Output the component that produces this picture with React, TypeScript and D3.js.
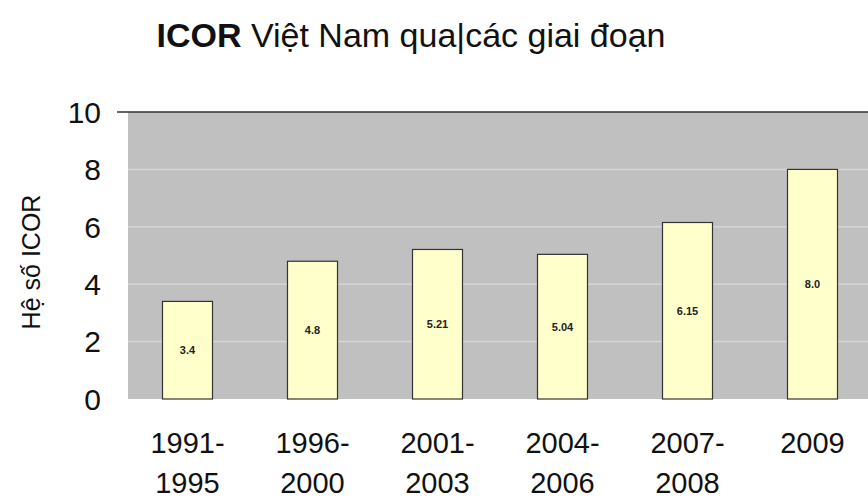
import { useEffect, useRef } from 'react';
import * as d3 from 'd3';

// giai đoạn (mỗi nhãn 2 dòng)
const periods = ['1991-1995', '1996-2000', '2001-2003', '2004-2006', '2007-2008', '2009'];
const periodLines = [
  ['1991-', '1995'],
  ['1996-', '2000'],
  ['2001-', '2003'],
  ['2004-', '2006'],
  ['2007-', '2008'],
  ['2009'],
];
const icor = [3.4, 4.8, 5.21, 5.04, 6.15, 8.0];
const icorLabels = ['3.4', '4.8', '5.21', '5.04', '6.15', '8.0'];
const yTicks = [0, 2, 4, 6, 8, 10];

const FONT = 'Liberation Sans, Arial, sans-serif';

const IcorChart = () => {
  const ref = useRef<SVGSVGElement>(null);

  useEffect(() => {
    const svg = d3.select(ref.current);
    svg.selectAll('*').remove();

    const width = 868;
    const height = 502;
    const plot = { left: 128, right: 868, top: 112, bottom: 399 };

    const x = d3
      .scaleBand()
      .domain(periods)
      .range([125, 875])
      .paddingInner(0.6)
      .paddingOuter(0.3);

    const y = d3.scaleLinear().domain([0, 10]).range([plot.bottom, plot.top]);

    svg.append('rect').attr('width', width).attr('height', height).attr('fill', '#fff');

    // title
    const title = svg
      .append('text')
      .attr('x', 411)
      .attr('y', 47)
      .attr('text-anchor', 'middle')
      .attr('font-family', FONT)
      .attr('font-size', 34)
      .attr('fill', '#111');
    title.append('tspan').attr('font-weight', 'bold').text('ICOR');
    title.append('tspan').text(' Việt Nam qua');
    title.append('tspan').attr('font-weight', 'lighter').text('|');
    title.append('tspan').text('các giai đoạn');

    // plot background
    svg
      .append('rect')
      .attr('x', plot.left)
      .attr('y', plot.top)
      .attr('width', plot.right - plot.left)
      .attr('height', plot.bottom - plot.top)
      .attr('fill', '#c0c0c0');

    // grid
    svg
      .append('g')
      .selectAll('line')
      .data(yTicks.filter((t) => t > 0 && t < 10))
      .enter()
      .append('line')
      .attr('x1', plot.left)
      .attr('x2', plot.right)
      .attr('y1', (d) => y(d))
      .attr('y2', (d) => y(d))
      .attr('stroke', '#d6d6d6')
      .attr('stroke-width', 1.5);

    // top line at 10
    svg
      .append('line')
      .attr('x1', 117)
      .attr('x2', plot.right)
      .attr('y1', y(10))
      .attr('y2', y(10))
      .attr('stroke', '#333')
      .attr('stroke-width', 1.5);

    // y tick labels
    svg
      .append('g')
      .selectAll('text')
      .data(yTicks)
      .enter()
      .append('text')
      .attr('x', 101)
      .attr('y', (d) => y(d))
      .attr('dy', '0.36em')
      .attr('text-anchor', 'end')
      .attr('font-family', FONT)
      .attr('font-size', 30)
      .attr('fill', '#111')
      .text((d) => d);

    // y title
    svg
      .append('text')
      .attr('transform', 'translate(40,262) rotate(-90)')
      .attr('text-anchor', 'middle')
      .attr('font-family', FONT)
      .attr('font-size', 25)
      .attr('fill', '#111')
      .text('Hệ số ICOR');

    // bars
    const data = periods.map((p, i) => ({ p, v: icor[i], label: icorLabels[i], lines: periodLines[i] }));

    svg
      .append('g')
      .selectAll('rect')
      .data(data)
      .enter()
      .append('rect')
      .attr('x', (d) => x(d.p)!)
      .attr('y', (d) => y(d.v))
      .attr('width', x.bandwidth())
      .attr('height', (d) => y(0) - y(d.v))
      .attr('fill', '#ffffcc')
      .attr('stroke', '#333')
      .attr('stroke-width', 1.2);

    // value labels
    svg
      .append('g')
      .selectAll('text')
      .data(data)
      .enter()
      .append('text')
      .attr('x', (d) => x(d.p)! + x.bandwidth() / 2)
      .attr('y', (d) => (y(d.v) + y(0)) / 2)
      .attr('dy', '0.36em')
      .attr('text-anchor', 'middle')
      .attr('font-family', FONT)
      .attr('font-size', 11)
      .attr('font-weight', 'bold')
      .attr('fill', '#222')
      .text((d) => d.label);

    // x labels
    const xl = svg
      .append('g')
      .selectAll('text')
      .data(data)
      .enter()
      .append('text')
      .attr('text-anchor', 'middle')
      .attr('font-family', FONT)
      .attr('font-size', 29)
      .attr('fill', '#111');
    xl.selectAll('tspan')
      .data((d) => d.lines.map((t) => ({ t, cx: x(d.p)! + x.bandwidth() / 2 })))
      .enter()
      .append('tspan')
      .attr('x', (d) => d.cx)
      .attr('y', (_, i) => (i === 0 ? 453 : 493))
      .text((d) => d.t);
  }, []);

  return (
    <svg
      ref={ref}
      width={868}
      height={502}
      style={{ position: 'absolute', left: 0, top: 0, display: 'block' }}
    ></svg>
  );
};

export default function App() {
  return <IcorChart />;
}
